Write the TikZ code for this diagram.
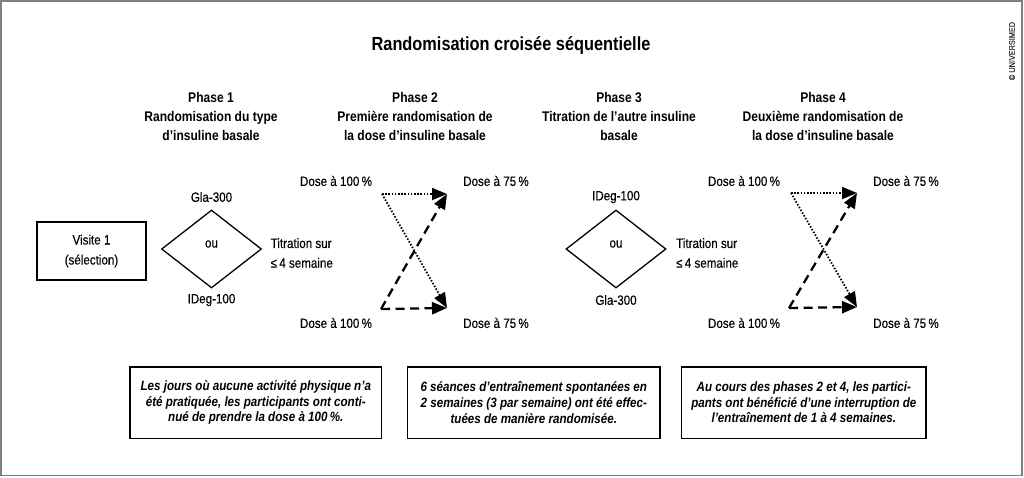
\documentclass[tikz,border=0pt]{standalone}
\usepackage{fontspec}
\setmainfont[FakeStretch=0.86, UprightFeatures={FakeBold=0.3}]{Liberation Sans}
\usepackage{tikz}
\tikzset{
	lbl/.style={font=\fontsize{13.5}{19.7}\selectfont, inner sep=0pt},
	head/.style={font=\bfseries\fontsize{14}{19}\selectfont, align=center, inner sep=0pt},
	visit/.style={draw, line width=1.5pt, minimum width=109pt, minimum height=58pt,
			align=center, font=\fontsize{13.5}{20}\selectfont},
	choice/.style={diamond, draw, line width=1.3pt, aspect=1.28,
			minimum width=100pt, minimum height=78pt, inner sep=0pt},
	note/.style={draw, line width=1.5pt, minimum height=71.5pt, align=center, inner sep=0pt,
			font=\bfseries\itshape\fontsize{13.5}{15.6}\selectfont},
	dotarrow/.style={-{Triangle[length=15pt,width=12pt]}, line width=1.8pt, dash pattern=on 1.5pt off 1.7pt},
	dasharrow/.style={-{Triangle[length=15pt,width=12pt]}, line width=2.3pt, dash pattern=on 9pt off 5.5pt}
}
\usetikzlibrary{arrows.meta,shapes.geometric,positioning}

\begin{document}
\begin{tikzpicture}[x=1pt, y=-1pt]
  \useasboundingbox (0,0) rectangle (1024,477);
  \draw[gray, line width=1.8pt] (1,1) rectangle (1022,475.5);

  % Title and phases
  \node[font=\bfseries\fontsize{19}{22}\selectfont] (title) at (511,46) {Randomisation croisée séquentielle};
  \node[head] (ph1) at (211,116) {Phase 1\\Randomisation du type\\d’insuline basale};
  \node[head] (ph2) at (415,116) {Phase 2\\Première randomisation de\\la dose d’insuline basale};
  \node[head] (ph3) at (619,116) {Phase 3\\Titration de l’autre insuline\\basale};
  \node[head] (ph4) at (823,116) {Phase 4\\Deuxième randomisation de\\la dose d’insuline basale};
  \node[font=\fontsize{8.5}{10}\selectfont, text=black!80, rotate=90, inner sep=0pt] (copy) at (1012,51) {© UNIVERSIMED};

  % Phase 1
  \node[visit] (v1) at (91.5,251) {Visite 1\\(sélection)};
  \node[choice] (d1) at (211.5,249) {};
  \node[lbl] (ou1) at (211.5,244) {ou};
  \node[lbl] (gla1) at (211.5,197) {Gla-300};
  \node[lbl] (ideg1) at (211.5,300) {IDeg-100};
  \node[lbl, anchor=west, align=left] (tit1) at (270.5,253) {Titration sur\\≤\,4 semaine};

  % Phase 2
  \node[lbl] (h2a) at (336,181) {Dose à 100\,\%};
  \node[lbl] (h2b) at (496,181) {Dose à 75\,\%};
  \node[lbl] (h2c) at (336,323) {Dose à 100\,\%};
  \node[lbl] (h2d) at (496,323) {Dose à 75\,\%};
  \coordinate (tl2) at (382,194);
  \coordinate (tr2) at (447,194);
  \coordinate (bl2) at (381,309);
  \coordinate (br2) at (447,308);
  \draw[dotarrow] (tl2) -- (tr2);
  \draw[dotarrow] (tl2) -- (br2);
  \draw[dasharrow] (bl2) -- (tr2);
  \draw[dasharrow] (bl2) -- (br2);

  % Phase 3
  \node[choice] (d3) at (616,249) {};
  \node[lbl] (ou3) at (616,244) {ou};
  \node[lbl] (ideg3) at (616,197) {IDeg-100};
  \node[lbl] (gla3) at (616,300) {Gla-300};
  \node[lbl, anchor=west, align=left] (tit3) at (676,253) {Titration sur\\≤\,4 semaine};

  % Phase 4
  \node[lbl] (h4a) at (744,181) {Dose à 100\,\%};
  \node[lbl] (h4b) at (906,181) {Dose à 75\,\%};
  \node[lbl] (h4c) at (744,323) {Dose à 100\,\%};
  \node[lbl] (h4d) at (906,323) {Dose à 75\,\%};
  \coordinate (tl4) at (791,193);
  \coordinate (tr4) at (857,193);
  \coordinate (bl4) at (789,308);
  \coordinate (br4) at (857,307);
  \draw[dotarrow] (tl4) -- (tr4);
  \draw[dotarrow] (tl4) -- (br4);
  \draw[dasharrow] (bl4) -- (tr4);
  \draw[dasharrow] (bl4) -- (br4);

  % Notes
  \node[note, minimum width=251.7pt] (n1) at (255.8,402.5) {Les jours où aucune activité physique n’a\\été pratiquée, les participants ont conti-\\nué de prendre la dose à 100\,\%.};
  \node[note, minimum width=252.3pt] (n2) at (533.8,402.5) {6 séances d’entraînement spontanées en\\2 semaines (3 par semaine) ont été effec-\\tuées de manière randomisée.};
  \node[note, minimum width=244.3pt] (n3) at (803.8,402.5) {Au cours des phases 2 et 4, les partici-\\pants ont bénéficié d’une interruption de\\l’entraînement de 1 à 4 semaines.};
\end{tikzpicture}
\end{document}
